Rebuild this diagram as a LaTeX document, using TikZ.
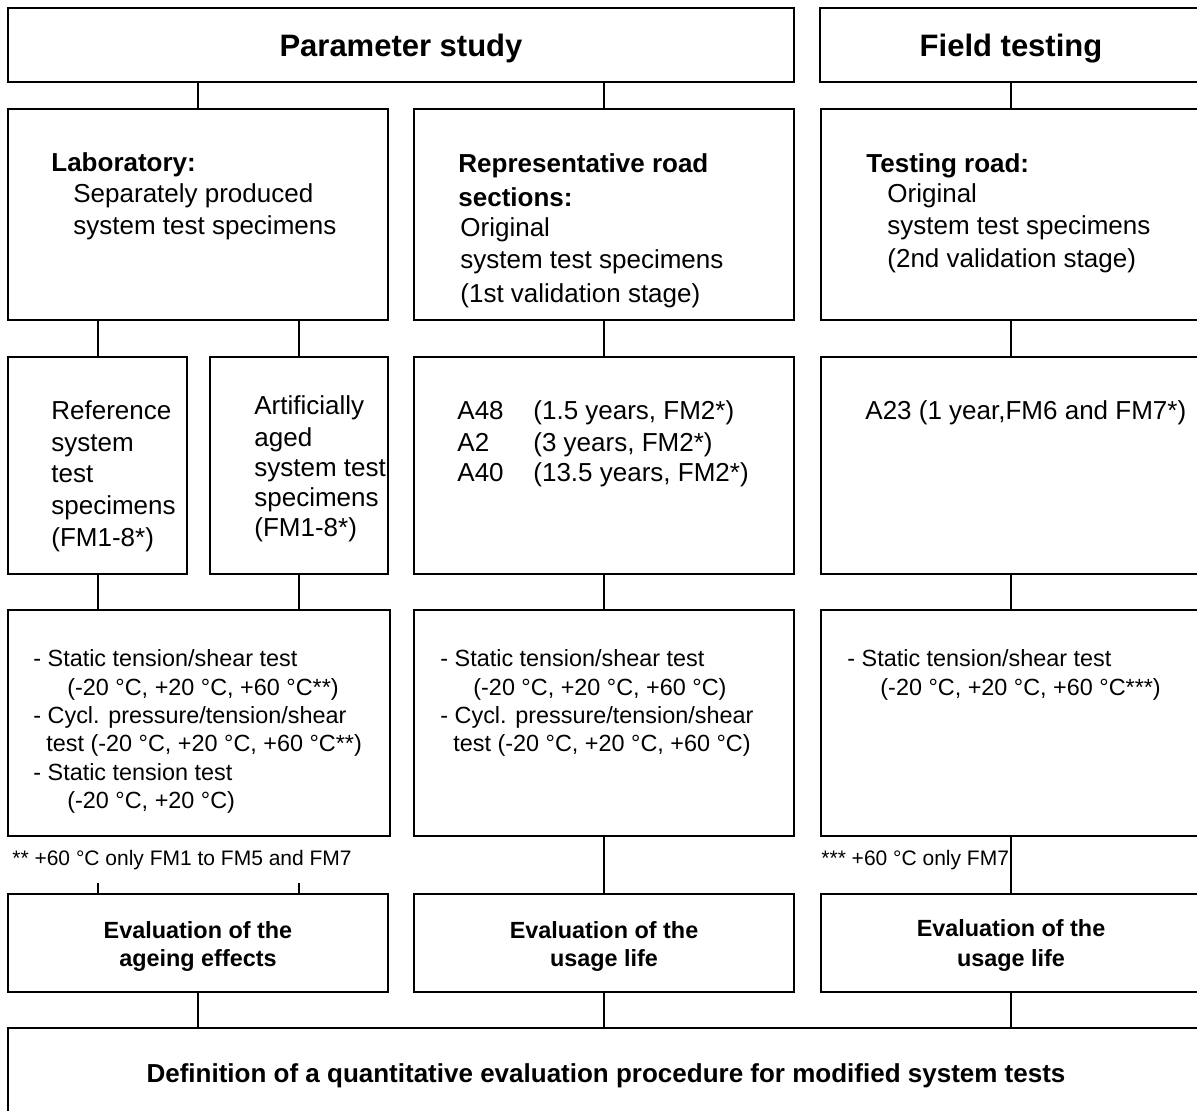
\documentclass[tikz,border=0pt]{standalone}
\usepackage{fontspec}
\setmainfont{Liberation Sans}
\usetikzlibrary{fit}
\begin{document}
\begin{tikzpicture}[x=0.5pt,y=-0.5pt,
  box/.style={draw=black, line width=1pt, inner sep=0pt, rectangle},
  conn/.style={draw=black, line width=1pt},
  tl/.style={anchor=west, inner sep=0pt, text height=9.3pt, text depth=0pt, font=\fontsize{13}{15.6}\selectfont},
  tlb/.style={tl, font=\fontsize{13}{15.6}\selectfont\bfseries},
  sm/.style={anchor=west, inner sep=0pt, text height=8.4pt, text depth=0pt, font=\fontsize{11.7}{14}\selectfont},
  fn/.style={anchor=west, inner sep=0pt, text height=7.5pt, text depth=0pt, font=\fontsize{10.5}{12.6}\selectfont},
  ev/.style={anchor=center, inner sep=0pt, text height=8.4pt, text depth=0pt, font=\fontsize{11.7}{14}\selectfont\bfseries},
  evl/.style={anchor=center, inner sep=0pt, text height=9.3pt, text depth=0pt, font=\fontsize{13}{15.6}\selectfont\bfseries},
  hd/.style={anchor=center, inner sep=0pt, text height=11.1pt, text depth=0pt, font=\fontsize{15.5}{18}\selectfont\bfseries}]
\useasboundingbox (0,0) rectangle (1197,1111);
\clip (0,0) rectangle (1197,1111);
\fill[white] (0,0) rectangle (1197,1111);

% Row 1
\node[box, fit={(8,8) (794,82)}] (ps) {};
\node[hd] (pst) at (401,45) {Parameter study};
\node[box, fit={(820,8) (1202,82)}] (ft) {};
\node[hd] (ftt) at (1011,45) {Field testing};

% Row 2
\node[box, fit={(8,109) (388,320)}] (lab) {};
\node[tlb] (lab1) at (51,162) {Laboratory:};
\node[tl] (lab2) at (73,193) {Separately produced};
\node[tl] (lab3) at (73,225) {system test specimens};

\node[box, fit={(414,109) (794,320)}] (rep) {};
\node[tlb] (rep1) at (458,163) {Representative road};
\node[tlb] (rep2) at (458,197) {sections:};
\node[tl] (rep3) at (460,227) {Original};
\node[tl] (rep4) at (460,259) {system test specimens};
\node[tl] (rep5) at (460,293) {(1st validation stage)};

\node[box, fit={(821,109) (1201,320)}] (tr) {};
\node[tlb] (tr1) at (866,163) {Testing road:};
\node[tl] (tr2) at (887,193) {Original};
\node[tl] (tr3) at (887,225) {system test specimens};
\node[tl] (tr4) at (887,258) {(2nd validation stage)};

% Row 3
\node[box, fit={(8,357) (187,574)}] (ref) {};
\node[tl] (ref1) at (51,410) {Reference};
\node[tl] (ref2) at (51,442) {system};
\node[tl] (ref3) at (51,473) {test};
\node[tl] (ref4) at (51,505) {specimens};
\node[tl] (ref5) at (51,537) {(FM1-8*)};

\node[box, fit={(210,357) (388,574)}] (art) {};
\node[tl] (art1) at (254,405) {Artificially};
\node[tl] (art2) at (254,437) {aged};
\node[tl] (art3) at (254,467) {system test};
\node[tl] (art4) at (254,497) {specimens};
\node[tl] (art5) at (254,527) {(FM1-8*)};

\node[box, fit={(414,357) (794,574)}] (ro) {};
\node[tl] (ro1a) at (457,410) {A48};
\node[tl] (ro1b) at (533,410) {(1.5 years, FM2*)};
\node[tl] (ro2a) at (457,442) {A2};
\node[tl] (ro2b) at (533,442) {(3 years, FM2*)};
\node[tl] (ro3a) at (457,472) {A40};
\node[tl] (ro3b) at (533,472) {(13.5 years, FM2*)};

\node[box, fit={(821,357) (1201,574)}] (ta) {};
\node[tl] (ta1) at (865,410) {A23 (1 year,FM6 and FM7*)};

% Row 4
\node[box, fit={(8,610) (390,836)}] (tl4) {};
\node[sm] (tl4a) at (33,658) {- Static tension/shear test};
\node[sm] (tl4b) at (67,687) {(-20 °C, +20 °C, +60 °C**)};
\node[sm] (tl4c) at (33,715) {- Cycl. pressure/tension/shear};
\node[sm] (tl4d) at (46,743) {test (-20 °C, +20 °C, +60 °C**)};
\node[sm] (tl4e) at (33,772) {- Static tension test};
\node[sm] (tl4f) at (67,800) {(-20 °C, +20 °C)};

\node[box, fit={(414,610) (794,836)}] (tm4) {};
\node[sm] (tm4a) at (440,658) {- Static tension/shear test};
\node[sm] (tm4b) at (473,687) {(-20 °C, +20 °C, +60 °C)};
\node[sm] (tm4c) at (440,715) {- Cycl. pressure/tension/shear};
\node[sm] (tm4d) at (453,743) {test (-20 °C, +20 °C, +60 °C)};

\node[box, fit={(821,610) (1201,836)}] (tr4box) {};
\node[sm] (tr4a) at (847,658) {- Static tension/shear test};
\node[sm] (tr4b) at (880,687) {(-20 °C, +20 °C, +60 °C***)};

% Footnotes
\node[fn] (fn1) at (12,858) {** +60 °C only FM1 to FM5 and FM7};
\node[fn] (fn2) at (821,858) {*** +60 °C only FM7};

% Row 5
\node[box, fit={(8,894) (388,992)}] (e1) {};
\node[ev] (e1a) at (198,930) {Evaluation of the};
\node[ev] (e1b) at (198,958) {ageing effects};
\node[box, fit={(414,894) (794,992)}] (e2) {};
\node[ev] (e2a) at (604,930) {Evaluation of the};
\node[ev] (e2b) at (604,958) {usage life};
\node[box, fit={(821,894) (1201,992)}] (e3) {};
\node[ev] (e3a) at (1011,928) {Evaluation of the};
\node[ev] (e3b) at (1011,958) {usage life};

% Row 6
\node[box, fit={(8,1028) (1200,1130)}] (def) {};
\node[evl] (defa) at (606,1073) {Definition of a quantitative evaluation procedure for modified system tests};

% Connectors
\draw[conn] (lab.north) -- (lab.north |- ps.south);
\draw[conn] (rep.north) -- (rep.north |- ps.south);
\draw[conn] (tr.north) -- (tr.north |- ft.south);
\draw[conn] (ref.north) -- (ref.north |- lab.south);
\draw[conn] (art.north) -- (art.north |- lab.south);
\draw[conn] (ro.north) -- (rep.south);
\draw[conn] (ta.north) -- (tr.south);
\draw[conn] (ref.south) -- (ref.south |- tl4.north);
\draw[conn] (art.south) -- (art.south |- tl4.north);
\draw[conn] (ro.south) -- (tm4.north);
\draw[conn] (ta.south) -- (tr4box.north);
\coordinate (s1) at (97.5,883);
\coordinate (s2) at (299,883);
\draw[conn] (s1) -- (s1 |- e1.north);
\draw[conn] (s2) -- (s2 |- e1.north);
\draw[conn] (tm4.south) -- (e2.north);
\draw[conn] (tr4box.south) -- (e3.north);
\draw[conn] (e1.south) -- (e1.south |- def.north);
\draw[conn] (e2.south) -- (e2.south |- def.north);
\draw[conn] (e3.south) -- (e3.south |- def.north);
\end{tikzpicture}
\end{document}
